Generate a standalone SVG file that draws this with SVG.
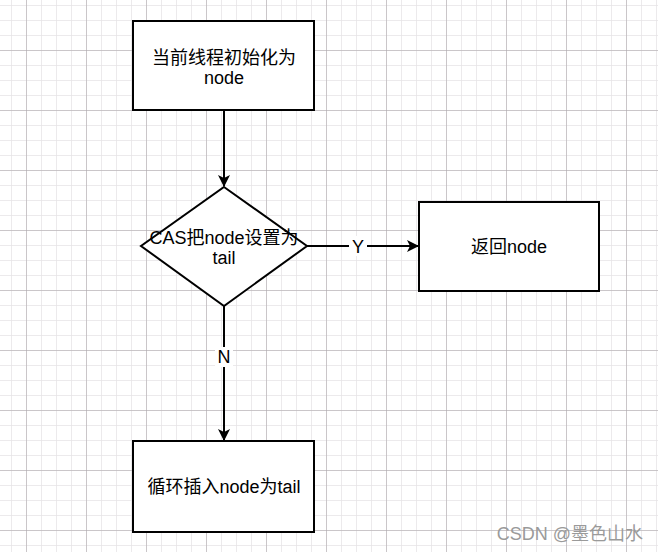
<svg xmlns="http://www.w3.org/2000/svg" width="658" height="552" viewBox="0 0 658 552">
<defs>
<pattern id="minor" width="15" height="15" patternUnits="userSpaceOnUse" x="11" y="5">
<path d="M0 0H15M0 0V15" fill="none" stroke="#e6e4e6" stroke-width="1.5"/>
</pattern>
<pattern id="major" width="60" height="60" patternUnits="userSpaceOnUse" x="26" y="50">
<path d="M0 0H60M0 0V60" fill="none" stroke="#a8a2a6" stroke-width="1"/>
</pattern>
<marker id="arr" viewBox="0 0 12 12" refX="11" refY="6" markerWidth="12" markerHeight="12" markerUnits="userSpaceOnUse" orient="auto">
<path d="M0 0L12 6L0 12L3 6Z" fill="#000"/>
</marker>
<style>
.box{fill:#fff;stroke:#000;stroke-width:2}
.lbl{font-family:"Liberation Sans","Noto Sans CJK SC",sans-serif;font-size:18px;fill:#000;text-anchor:middle}
.edge{fill:none;stroke:#000;stroke-width:2}
.el{font-family:"Liberation Sans","Noto Sans CJK SC",sans-serif;font-size:18px;fill:#000;text-anchor:middle}
</style>
</defs>
<rect width="658" height="552" fill="#fff"/>
<rect width="658" height="552" fill="url(#minor)"/>
<rect width="658" height="552" fill="url(#major)"/>
<g id="connectors">
<line class="edge" x1="224" y1="111" x2="224" y2="186" marker-end="url(#arr)"/>
<line class="edge" x1="307" y1="246" x2="418" y2="246" marker-end="url(#arr)"/>
<rect x="349" y="236" width="18" height="20" fill="#fff"/>
<text class="el" x="358" y="253">Y</text>
<line class="edge" x1="224" y1="306" x2="224" y2="440" marker-end="url(#arr)"/>
<rect x="215" y="347" width="18" height="20" fill="#fff"/>
<text class="el" x="224" y="363">N</text>
</g>
<g id="init">
<rect class="box" x="133" y="21" width="181" height="89"/>
<text class="lbl" x="224" y="64">当前线程初始化为</text>
<text class="lbl" x="224" y="84">node</text>
</g>
<g id="cas">
<polygon class="box" points="224,187 307,246 224,306 141,246"/>
<text class="lbl" x="224" y="244">CAS把node设置为</text>
<text class="lbl" x="224" y="264">tail</text>
</g>
<g id="ret">
<rect class="box" x="419" y="202" width="180" height="89"/>
<text class="lbl" x="509" y="253">返回node</text>
</g>
<g id="loop">
<rect class="box" x="133" y="441" width="181" height="91"/>
<text class="lbl" x="224" y="493">循环插入node为tail</text>
</g>
<text x="643" y="540" font-family="'Liberation Sans','Noto Sans CJK SC',sans-serif" font-size="18" fill="#9a9a9a" text-anchor="end">CSDN @墨色山水</text>
</svg>
